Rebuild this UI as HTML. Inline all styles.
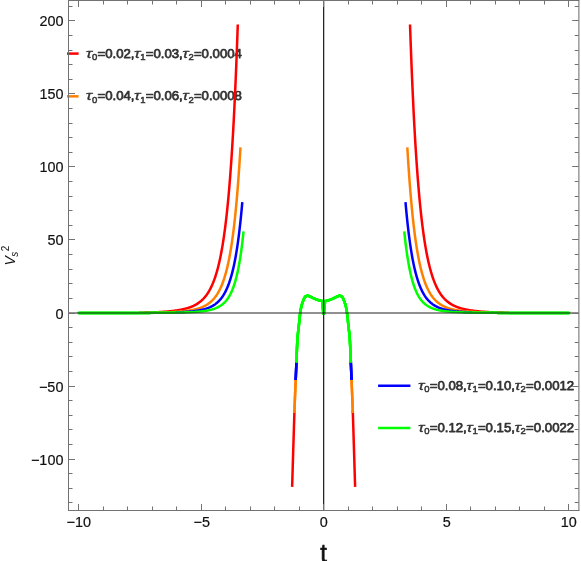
<!DOCTYPE html>
<html><head><meta charset="utf-8"><title>plot</title>
<style>html,body{margin:0;padding:0;background:#fff;}body{width:581px;height:561px;overflow:hidden;position:relative;font-family:"Liberation Sans",sans-serif;}</style></head>
<body>
<svg width="581" height="561" viewBox="0 0 581 561" style="position:absolute;left:0;top:0;will-change:transform">
<rect width="581" height="561" fill="#fff"/>
<g font-family="Liberation Sans, sans-serif" font-size="13.2px" fill="#333" stroke="#333" stroke-width="0.75" stroke-linejoin="round"><text transform="translate(85.80,57.6) scale(1.3,1)" font-style="italic" stroke-width="0.3">τ</text><text x="92.00" y="60.00" font-size="9.5px" stroke-width="0.5">0</text><text x="97.50" y="57.6">=0.02,</text><text transform="translate(134.00,57.6) scale(1.3,1)" font-style="italic" stroke-width="0.3">τ</text><text x="140.20" y="60.00" font-size="9.5px" stroke-width="0.5">1</text><text x="145.70" y="57.6">=0.03,</text><text transform="translate(182.20,57.6) scale(1.3,1)" font-style="italic" stroke-width="0.3">τ</text><text x="188.40" y="60.00" font-size="9.5px" stroke-width="0.5">2</text><text x="193.90" y="57.6">=0.0004</text></g>
<g font-family="Liberation Sans, sans-serif" font-size="13.2px" fill="#333" stroke="#333" stroke-width="0.75" stroke-linejoin="round"><text transform="translate(85.80,100.3) scale(1.3,1)" font-style="italic" stroke-width="0.3">τ</text><text x="92.00" y="102.70" font-size="9.5px" stroke-width="0.5">0</text><text x="97.50" y="100.3">=0.04,</text><text transform="translate(134.00,100.3) scale(1.3,1)" font-style="italic" stroke-width="0.3">τ</text><text x="140.20" y="102.70" font-size="9.5px" stroke-width="0.5">1</text><text x="145.70" y="100.3">=0.06,</text><text transform="translate(182.20,100.3) scale(1.3,1)" font-style="italic" stroke-width="0.3">τ</text><text x="188.40" y="102.70" font-size="9.5px" stroke-width="0.5">2</text><text x="193.90" y="100.3">=0.0008</text></g>
<g font-family="Liberation Sans, sans-serif" font-size="13.2px" fill="#333" stroke="#333" stroke-width="0.75" stroke-linejoin="round"><text transform="translate(418.00,389.5) scale(1.3,1)" font-style="italic" stroke-width="0.3">τ</text><text x="424.20" y="391.90" font-size="9.5px" stroke-width="0.5">0</text><text x="429.70" y="389.5">=0.08,</text><text transform="translate(466.20,389.5) scale(1.3,1)" font-style="italic" stroke-width="0.3">τ</text><text x="472.40" y="391.90" font-size="9.5px" stroke-width="0.5">1</text><text x="477.90" y="389.5">=0.10,</text><text transform="translate(514.40,389.5) scale(1.3,1)" font-style="italic" stroke-width="0.3">τ</text><text x="520.60" y="391.90" font-size="9.5px" stroke-width="0.5">2</text><text x="526.10" y="389.5">=0.0012</text></g>
<g font-family="Liberation Sans, sans-serif" font-size="13.2px" fill="#333" stroke="#333" stroke-width="0.75" stroke-linejoin="round"><text transform="translate(418.00,431.7) scale(1.3,1)" font-style="italic" stroke-width="0.3">τ</text><text x="424.20" y="434.10" font-size="9.5px" stroke-width="0.5">0</text><text x="429.70" y="431.7">=0.12,</text><text transform="translate(466.20,431.7) scale(1.3,1)" font-style="italic" stroke-width="0.3">τ</text><text x="472.40" y="434.10" font-size="9.5px" stroke-width="0.5">1</text><text x="477.90" y="431.7">=0.15,</text><text transform="translate(514.40,431.7) scale(1.3,1)" font-style="italic" stroke-width="0.3">τ</text><text x="520.60" y="434.10" font-size="9.5px" stroke-width="0.5">2</text><text x="526.10" y="431.7">=0.0022</text></g>
<g fill="none" stroke-width="2.5" stroke-linecap="square" stroke-linejoin="round">
<path d="M140.00 312.72 L141.23 312.69 L142.45 312.67 L143.68 312.65 L144.90 312.62 L146.13 312.59 L147.36 312.56 L148.58 312.52 L149.81 312.49 L151.03 312.45 L152.26 312.41 L153.49 312.36 L154.71 312.31 L155.94 312.26 L157.16 312.20 L158.39 312.14 L159.62 312.08 L160.84 312.01 L162.07 311.93 L163.29 311.85 L164.52 311.76 L165.75 311.67 L166.97 311.57 L168.20 311.46 L169.42 311.34 L170.65 311.21 L171.88 311.08 L173.10 310.93 L174.33 310.77 L175.55 310.60 L176.78 310.42 L177.15 310.36 L177.52 310.30 L177.89 310.24 L178.26 310.18 L178.63 310.12 L179.00 310.05 L179.37 309.99 L179.74 309.92 L180.11 309.85 L180.48 309.78 L180.85 309.71 L181.22 309.64 L181.59 309.56 L181.96 309.48 L182.32 309.40 L182.69 309.32 L183.06 309.24 L183.43 309.16 L183.80 309.07 L184.17 308.98 L184.54 308.89 L184.91 308.80 L185.28 308.71 L185.65 308.61 L186.02 308.51 L186.39 308.41 L186.76 308.31 L187.13 308.20 L187.50 308.09 L187.87 307.98 L188.24 307.87 L188.61 307.75 L188.98 307.63 L189.35 307.50 L189.72 307.38 L190.09 307.24 L190.46 307.11 L190.83 306.97 L191.20 306.83 L191.57 306.68 L191.94 306.53 L192.31 306.37 L192.67 306.21 L193.04 306.05 L193.41 305.88 L193.78 305.70 L194.15 305.52 L194.52 305.33 L194.89 305.14 L195.26 304.95 L195.63 304.75 L196.00 304.54 L196.37 304.32 L196.74 304.10 L197.11 303.87 L197.48 303.64 L197.85 303.40 L198.22 303.15 L198.59 302.89 L198.96 302.63 L199.33 302.36 L199.70 302.08 L200.07 301.79 L200.44 301.49 L200.81 301.18 L201.18 300.86 L201.55 300.54 L201.92 300.20 L202.29 299.85 L202.66 299.49 L203.03 299.12 L203.39 298.74 L203.76 298.35 L204.13 297.94 L204.50 297.52 L204.87 297.09 L205.24 296.64 L205.61 296.18 L205.98 295.70 L206.35 295.21 L206.72 294.71 L207.09 294.18 L207.46 293.64 L207.83 293.08 L208.20 292.50 L208.57 291.91 L208.94 291.29 L209.31 290.66 L209.68 290.00 L210.05 289.32 L210.42 288.62 L210.79 287.89 L211.16 287.14 L211.53 286.36 L211.90 285.56 L212.27 284.73 L212.64 283.87 L213.01 282.99 L213.38 282.07 L213.74 281.12 L214.11 280.14 L214.48 279.12 L214.85 278.07 L215.22 276.98 L215.59 275.86 L215.96 274.69 L216.33 273.49 L216.70 272.24 L217.07 270.94 L217.44 269.61 L217.81 268.22 L218.18 266.78 L218.55 265.30 L218.92 263.76 L219.29 262.16 L219.66 260.51 L220.03 258.80 L220.40 257.02 L220.77 255.18 L221.14 253.28 L221.51 251.30 L221.88 249.25 L222.25 247.13 L222.62 244.93 L222.99 242.65 L223.36 240.28 L223.73 237.82 L224.09 235.28 L224.46 232.63 L224.83 229.89 L225.20 227.05 L225.57 224.10 L225.94 221.03 L226.31 217.85 L226.68 214.56 L227.05 211.13 L227.42 207.57 L227.79 203.88 L228.16 200.05 L228.53 196.07 L228.90 191.93 L229.27 187.63 L229.64 183.17 L230.01 178.54 L230.38 173.72 L230.75 168.71 L231.12 163.51 L231.49 158.11 L231.86 152.49 L232.23 146.64 L232.60 140.57 L232.97 134.26 L233.34 127.69 L233.71 120.86 L234.08 113.76 L234.45 106.37 L234.81 98.68 L235.18 90.68 L235.55 82.36 L235.92 73.71 L236.29 64.70 L236.66 55.32 L237.03 45.55 L237.40 35.39 L237.74 25.70" stroke="#ff0000"/>
<path d="M507.80 312.72 L506.57 312.69 L505.35 312.67 L504.12 312.65 L502.90 312.62 L501.67 312.59 L500.44 312.56 L499.22 312.52 L497.99 312.49 L496.77 312.45 L495.54 312.41 L494.31 312.36 L493.09 312.31 L491.86 312.26 L490.64 312.20 L489.41 312.14 L488.18 312.08 L486.96 312.01 L485.73 311.93 L484.51 311.85 L483.28 311.76 L482.05 311.67 L480.83 311.57 L479.60 311.46 L478.38 311.34 L477.15 311.21 L475.92 311.08 L474.70 310.93 L473.47 310.77 L472.25 310.60 L471.02 310.42 L470.65 310.36 L470.28 310.30 L469.91 310.24 L469.54 310.18 L469.17 310.12 L468.80 310.05 L468.43 309.99 L468.06 309.92 L467.69 309.85 L467.32 309.78 L466.95 309.71 L466.58 309.64 L466.21 309.56 L465.84 309.48 L465.48 309.40 L465.11 309.32 L464.74 309.24 L464.37 309.16 L464.00 309.07 L463.63 308.98 L463.26 308.89 L462.89 308.80 L462.52 308.71 L462.15 308.61 L461.78 308.51 L461.41 308.41 L461.04 308.31 L460.67 308.20 L460.30 308.09 L459.93 307.98 L459.56 307.87 L459.19 307.75 L458.82 307.63 L458.45 307.50 L458.08 307.38 L457.71 307.24 L457.34 307.11 L456.97 306.97 L456.60 306.83 L456.23 306.68 L455.86 306.53 L455.49 306.37 L455.13 306.21 L454.76 306.05 L454.39 305.88 L454.02 305.70 L453.65 305.52 L453.28 305.33 L452.91 305.14 L452.54 304.95 L452.17 304.75 L451.80 304.54 L451.43 304.32 L451.06 304.10 L450.69 303.87 L450.32 303.64 L449.95 303.40 L449.58 303.15 L449.21 302.89 L448.84 302.63 L448.47 302.36 L448.10 302.08 L447.73 301.79 L447.36 301.49 L446.99 301.18 L446.62 300.86 L446.25 300.54 L445.88 300.20 L445.51 299.85 L445.14 299.49 L444.77 299.12 L444.41 298.74 L444.04 298.35 L443.67 297.94 L443.30 297.52 L442.93 297.09 L442.56 296.64 L442.19 296.18 L441.82 295.70 L441.45 295.21 L441.08 294.71 L440.71 294.18 L440.34 293.64 L439.97 293.08 L439.60 292.50 L439.23 291.91 L438.86 291.29 L438.49 290.66 L438.12 290.00 L437.75 289.32 L437.38 288.62 L437.01 287.89 L436.64 287.14 L436.27 286.36 L435.90 285.56 L435.53 284.73 L435.16 283.87 L434.79 282.99 L434.42 282.07 L434.06 281.12 L433.69 280.14 L433.32 279.12 L432.95 278.07 L432.58 276.98 L432.21 275.86 L431.84 274.69 L431.47 273.49 L431.10 272.24 L430.73 270.94 L430.36 269.61 L429.99 268.22 L429.62 266.78 L429.25 265.30 L428.88 263.76 L428.51 262.16 L428.14 260.51 L427.77 258.80 L427.40 257.02 L427.03 255.18 L426.66 253.28 L426.29 251.30 L425.92 249.25 L425.55 247.13 L425.18 244.93 L424.81 242.65 L424.44 240.28 L424.07 237.82 L423.71 235.28 L423.34 232.63 L422.97 229.89 L422.60 227.05 L422.23 224.10 L421.86 221.03 L421.49 217.85 L421.12 214.56 L420.75 211.13 L420.38 207.57 L420.01 203.88 L419.64 200.05 L419.27 196.07 L418.90 191.93 L418.53 187.63 L418.16 183.17 L417.79 178.54 L417.42 173.72 L417.05 168.71 L416.68 163.51 L416.31 158.11 L415.94 152.49 L415.57 146.64 L415.20 140.57 L414.83 134.26 L414.46 127.69 L414.09 120.86 L413.72 113.76 L413.35 106.37 L412.99 98.68 L412.62 90.68 L412.25 82.36 L411.88 73.71 L411.51 64.70 L411.14 55.32 L410.77 45.55 L410.40 35.39 L410.06 25.70" stroke="#ff0000"/>
<path id="crl" d="M292.16 485.60 L292.29 481.48 L292.47 475.43 L292.69 468.20 L292.93 460.13 L293.19 451.55 L293.46 442.81 L293.72 434.24 L293.97 426.20 L294.20 419.00 L294.40 413.00 L294.45 411.60" stroke="#ff0000"/>
<path id="crr" d="M355.08 485.60 L354.95 481.48 L354.77 475.43 L354.55 468.20 L354.31 460.13 L354.05 451.55 L353.78 442.81 L353.52 434.24 L353.27 426.20 L353.04 419.00 L352.84 413.00 L352.79 411.60" stroke="#ff0000"/>
<path d="M157.16 312.61 L158.39 312.59 L159.62 312.55 L160.84 312.52 L162.07 312.49 L163.29 312.45 L164.52 312.41 L165.75 312.36 L166.97 312.32 L168.20 312.27 L169.42 312.21 L170.65 312.15 L171.88 312.09 L173.10 312.02 L174.33 311.95 L175.55 311.87 L176.78 311.79 L177.15 311.76 L177.52 311.74 L177.89 311.71 L178.26 311.68 L178.63 311.65 L179.00 311.62 L179.37 311.59 L179.74 311.56 L180.11 311.53 L180.48 311.50 L180.85 311.47 L181.22 311.43 L181.59 311.40 L181.96 311.37 L182.32 311.33 L182.69 311.29 L183.06 311.26 L183.43 311.22 L183.80 311.18 L184.17 311.14 L184.54 311.10 L184.91 311.06 L185.28 311.02 L185.65 310.97 L186.02 310.93 L186.39 310.88 L186.76 310.84 L187.13 310.79 L187.50 310.74 L187.87 310.69 L188.24 310.64 L188.61 310.59 L188.98 310.53 L189.35 310.48 L189.72 310.42 L190.09 310.36 L190.46 310.30 L190.83 310.24 L191.20 310.18 L191.57 310.11 L191.94 310.04 L192.31 309.97 L192.67 309.90 L193.04 309.83 L193.41 309.75 L193.78 309.67 L194.15 309.59 L194.52 309.51 L194.89 309.43 L195.26 309.34 L195.63 309.25 L196.00 309.16 L196.37 309.06 L196.74 308.96 L197.11 308.86 L197.48 308.76 L197.85 308.65 L198.22 308.54 L198.59 308.43 L198.96 308.31 L199.33 308.19 L199.70 308.07 L200.07 307.94 L200.44 307.81 L200.81 307.67 L201.18 307.53 L201.55 307.38 L201.92 307.24 L202.29 307.08 L202.66 306.92 L203.03 306.76 L203.39 306.59 L203.76 306.42 L204.13 306.24 L204.50 306.05 L204.87 305.86 L205.24 305.67 L205.61 305.46 L205.98 305.25 L206.35 305.04 L206.72 304.81 L207.09 304.58 L207.46 304.34 L207.83 304.10 L208.20 303.84 L208.57 303.58 L208.94 303.31 L209.31 303.03 L209.68 302.74 L210.05 302.44 L210.42 302.13 L210.79 301.81 L211.16 301.48 L211.53 301.14 L211.90 300.79 L212.27 300.43 L212.64 300.05 L213.01 299.66 L213.38 299.26 L213.74 298.84 L214.11 298.41 L214.48 297.97 L214.85 297.50 L215.22 297.03 L215.59 296.53 L215.96 296.02 L216.33 295.50 L216.70 294.95 L217.07 294.38 L217.44 293.80 L217.81 293.19 L218.18 292.56 L218.55 291.91 L218.92 291.24 L219.29 290.54 L219.66 289.82 L220.03 289.07 L220.40 288.29 L220.77 287.49 L221.14 286.66 L221.51 285.79 L221.88 284.90 L222.25 283.97 L222.62 283.01 L222.99 282.01 L223.36 280.98 L223.73 279.91 L224.09 278.79 L224.46 277.64 L224.83 276.44 L225.20 275.20 L225.57 273.92 L225.94 272.58 L226.31 271.19 L226.68 269.75 L227.05 268.26 L227.42 266.71 L227.79 265.10 L228.16 263.43 L228.53 261.69 L228.90 259.89 L229.27 258.02 L229.64 256.07 L230.01 254.05 L230.38 251.96 L230.75 249.77 L231.12 247.51 L231.49 245.15 L231.86 242.71 L232.23 240.16 L232.60 237.52 L232.97 234.77 L233.34 231.91 L233.71 228.94 L234.08 225.84 L234.45 222.63 L234.81 219.28 L235.18 215.80 L235.55 212.18 L235.92 208.41 L236.29 204.49 L236.66 200.41 L237.03 196.16 L237.40 191.74 L237.77 187.13 L238.14 182.34 L238.51 177.35 L238.88 172.15 L239.25 166.73 L239.62 161.09 L239.99 155.22 L240.36 149.10 L240.39 148.60" stroke="#ff8000"/>
<path d="M490.64 312.61 L489.41 312.59 L488.18 312.55 L486.96 312.52 L485.73 312.49 L484.51 312.45 L483.28 312.41 L482.05 312.36 L480.83 312.32 L479.60 312.27 L478.38 312.21 L477.15 312.15 L475.92 312.09 L474.70 312.02 L473.47 311.95 L472.25 311.87 L471.02 311.79 L470.65 311.76 L470.28 311.74 L469.91 311.71 L469.54 311.68 L469.17 311.65 L468.80 311.62 L468.43 311.59 L468.06 311.56 L467.69 311.53 L467.32 311.50 L466.95 311.47 L466.58 311.43 L466.21 311.40 L465.84 311.37 L465.48 311.33 L465.11 311.29 L464.74 311.26 L464.37 311.22 L464.00 311.18 L463.63 311.14 L463.26 311.10 L462.89 311.06 L462.52 311.02 L462.15 310.97 L461.78 310.93 L461.41 310.88 L461.04 310.84 L460.67 310.79 L460.30 310.74 L459.93 310.69 L459.56 310.64 L459.19 310.59 L458.82 310.53 L458.45 310.48 L458.08 310.42 L457.71 310.36 L457.34 310.30 L456.97 310.24 L456.60 310.18 L456.23 310.11 L455.86 310.04 L455.49 309.97 L455.13 309.90 L454.76 309.83 L454.39 309.75 L454.02 309.67 L453.65 309.59 L453.28 309.51 L452.91 309.43 L452.54 309.34 L452.17 309.25 L451.80 309.16 L451.43 309.06 L451.06 308.96 L450.69 308.86 L450.32 308.76 L449.95 308.65 L449.58 308.54 L449.21 308.43 L448.84 308.31 L448.47 308.19 L448.10 308.07 L447.73 307.94 L447.36 307.81 L446.99 307.67 L446.62 307.53 L446.25 307.38 L445.88 307.24 L445.51 307.08 L445.14 306.92 L444.77 306.76 L444.41 306.59 L444.04 306.42 L443.67 306.24 L443.30 306.05 L442.93 305.86 L442.56 305.67 L442.19 305.46 L441.82 305.25 L441.45 305.04 L441.08 304.81 L440.71 304.58 L440.34 304.34 L439.97 304.10 L439.60 303.84 L439.23 303.58 L438.86 303.31 L438.49 303.03 L438.12 302.74 L437.75 302.44 L437.38 302.13 L437.01 301.81 L436.64 301.48 L436.27 301.14 L435.90 300.79 L435.53 300.43 L435.16 300.05 L434.79 299.66 L434.42 299.26 L434.06 298.84 L433.69 298.41 L433.32 297.97 L432.95 297.50 L432.58 297.03 L432.21 296.53 L431.84 296.02 L431.47 295.50 L431.10 294.95 L430.73 294.38 L430.36 293.80 L429.99 293.19 L429.62 292.56 L429.25 291.91 L428.88 291.24 L428.51 290.54 L428.14 289.82 L427.77 289.07 L427.40 288.29 L427.03 287.49 L426.66 286.66 L426.29 285.79 L425.92 284.90 L425.55 283.97 L425.18 283.01 L424.81 282.01 L424.44 280.98 L424.07 279.91 L423.71 278.79 L423.34 277.64 L422.97 276.44 L422.60 275.20 L422.23 273.92 L421.86 272.58 L421.49 271.19 L421.12 269.75 L420.75 268.26 L420.38 266.71 L420.01 265.10 L419.64 263.43 L419.27 261.69 L418.90 259.89 L418.53 258.02 L418.16 256.07 L417.79 254.05 L417.42 251.96 L417.05 249.77 L416.68 247.51 L416.31 245.15 L415.94 242.71 L415.57 240.16 L415.20 237.52 L414.83 234.77 L414.46 231.91 L414.09 228.94 L413.72 225.84 L413.35 222.63 L412.99 219.28 L412.62 215.80 L412.25 212.18 L411.88 208.41 L411.51 204.49 L411.14 200.41 L410.77 196.16 L410.40 191.74 L410.03 187.13 L409.66 182.34 L409.29 177.35 L408.92 172.15 L408.55 166.73 L408.18 161.09 L407.81 155.22 L407.44 149.10 L407.41 148.60" stroke="#ff8000"/>
<path id="col" d="M294.45 411.60 L294.57 408.02 L294.73 403.63 L294.88 399.73 L295.02 396.26 L295.15 393.14 L295.27 390.30 L295.38 387.66 L295.49 385.15 L295.60 382.69 L295.70 380.20 L295.76 378.80" stroke="#ff8000"/>
<path id="cor" d="M352.79 411.60 L352.67 408.02 L352.51 403.63 L352.36 399.73 L352.22 396.26 L352.09 393.14 L351.97 390.30 L351.86 387.66 L351.75 385.15 L351.64 382.69 L351.54 380.20 L351.48 378.80" stroke="#ff8000"/>
<use href="#col"/><use href="#cor"/>
<path d="M176.78 312.35 L177.15 312.33 L177.52 312.32 L177.89 312.30 L178.26 312.29 L178.63 312.27 L179.00 312.26 L179.37 312.24 L179.74 312.22 L180.11 312.21 L180.48 312.19 L180.85 312.17 L181.22 312.15 L181.59 312.13 L181.96 312.12 L182.32 312.10 L182.69 312.08 L183.06 312.06 L183.43 312.03 L183.80 312.01 L184.17 311.99 L184.54 311.97 L184.91 311.95 L185.28 311.92 L185.65 311.90 L186.02 311.87 L186.39 311.85 L186.76 311.82 L187.13 311.80 L187.50 311.77 L187.87 311.74 L188.24 311.72 L188.61 311.69 L188.98 311.66 L189.35 311.63 L189.72 311.59 L190.09 311.56 L190.46 311.53 L190.83 311.49 L191.20 311.46 L191.57 311.42 L191.94 311.38 L192.31 311.35 L192.67 311.31 L193.04 311.27 L193.41 311.22 L193.78 311.18 L194.15 311.14 L194.52 311.09 L194.89 311.04 L195.26 311.00 L195.63 310.95 L196.00 310.89 L196.37 310.84 L196.74 310.79 L197.11 310.73 L197.48 310.67 L197.85 310.61 L198.22 310.55 L198.59 310.49 L198.96 310.43 L199.33 310.36 L199.70 310.29 L200.07 310.22 L200.44 310.14 L200.81 310.07 L201.18 309.99 L201.55 309.91 L201.92 309.83 L202.29 309.74 L202.66 309.66 L203.03 309.56 L203.39 309.47 L203.76 309.37 L204.13 309.28 L204.50 309.17 L204.87 309.07 L205.24 308.96 L205.61 308.84 L205.98 308.73 L206.35 308.61 L206.72 308.48 L207.09 308.36 L207.46 308.22 L207.83 308.09 L208.20 307.95 L208.57 307.80 L208.94 307.65 L209.31 307.49 L209.68 307.33 L210.05 307.17 L210.42 307.00 L210.79 306.82 L211.16 306.64 L211.53 306.45 L211.90 306.25 L212.27 306.05 L212.64 305.84 L213.01 305.62 L213.38 305.40 L213.74 305.17 L214.11 304.93 L214.48 304.68 L214.85 304.43 L215.22 304.16 L215.59 303.89 L215.96 303.60 L216.33 303.31 L216.70 303.01 L217.07 302.69 L217.44 302.37 L217.81 302.03 L218.18 301.68 L218.55 301.32 L218.92 300.95 L219.29 300.56 L219.66 300.16 L220.03 299.74 L220.40 299.31 L220.77 298.87 L221.14 298.40 L221.51 297.92 L221.88 297.43 L222.25 296.91 L222.62 296.38 L222.99 295.83 L223.36 295.25 L223.73 294.66 L224.09 294.04 L224.46 293.40 L224.83 292.74 L225.20 292.05 L225.57 291.33 L225.94 290.59 L226.31 289.82 L226.68 289.03 L227.05 288.20 L227.42 287.34 L227.79 286.45 L228.16 285.52 L228.53 284.56 L228.90 283.56 L229.27 282.52 L229.64 281.44 L230.01 280.33 L230.38 279.16 L230.75 277.96 L231.12 276.70 L231.49 275.40 L231.86 274.04 L232.23 272.63 L232.60 271.17 L232.97 269.65 L233.34 268.06 L233.71 266.42 L234.08 264.71 L234.45 262.93 L234.81 261.08 L235.18 259.15 L235.55 257.15 L235.92 255.07 L236.29 252.90 L236.66 250.64 L237.03 248.30 L237.40 245.85 L237.77 243.31 L238.14 240.66 L238.51 237.91 L238.88 235.04 L239.25 232.05 L239.62 228.93 L239.99 225.69 L240.36 222.31 L240.73 218.79 L241.10 215.13 L241.47 211.31 L241.84 207.33 L242.19 203.40" stroke="#0000ff"/>
<path d="M471.02 312.35 L470.65 312.33 L470.28 312.32 L469.91 312.30 L469.54 312.29 L469.17 312.27 L468.80 312.26 L468.43 312.24 L468.06 312.22 L467.69 312.21 L467.32 312.19 L466.95 312.17 L466.58 312.15 L466.21 312.13 L465.84 312.12 L465.48 312.10 L465.11 312.08 L464.74 312.06 L464.37 312.03 L464.00 312.01 L463.63 311.99 L463.26 311.97 L462.89 311.95 L462.52 311.92 L462.15 311.90 L461.78 311.87 L461.41 311.85 L461.04 311.82 L460.67 311.80 L460.30 311.77 L459.93 311.74 L459.56 311.72 L459.19 311.69 L458.82 311.66 L458.45 311.63 L458.08 311.59 L457.71 311.56 L457.34 311.53 L456.97 311.49 L456.60 311.46 L456.23 311.42 L455.86 311.38 L455.49 311.35 L455.13 311.31 L454.76 311.27 L454.39 311.22 L454.02 311.18 L453.65 311.14 L453.28 311.09 L452.91 311.04 L452.54 311.00 L452.17 310.95 L451.80 310.89 L451.43 310.84 L451.06 310.79 L450.69 310.73 L450.32 310.67 L449.95 310.61 L449.58 310.55 L449.21 310.49 L448.84 310.43 L448.47 310.36 L448.10 310.29 L447.73 310.22 L447.36 310.14 L446.99 310.07 L446.62 309.99 L446.25 309.91 L445.88 309.83 L445.51 309.74 L445.14 309.66 L444.77 309.56 L444.41 309.47 L444.04 309.37 L443.67 309.28 L443.30 309.17 L442.93 309.07 L442.56 308.96 L442.19 308.84 L441.82 308.73 L441.45 308.61 L441.08 308.48 L440.71 308.36 L440.34 308.22 L439.97 308.09 L439.60 307.95 L439.23 307.80 L438.86 307.65 L438.49 307.49 L438.12 307.33 L437.75 307.17 L437.38 307.00 L437.01 306.82 L436.64 306.64 L436.27 306.45 L435.90 306.25 L435.53 306.05 L435.16 305.84 L434.79 305.62 L434.42 305.40 L434.06 305.17 L433.69 304.93 L433.32 304.68 L432.95 304.43 L432.58 304.16 L432.21 303.89 L431.84 303.60 L431.47 303.31 L431.10 303.01 L430.73 302.69 L430.36 302.37 L429.99 302.03 L429.62 301.68 L429.25 301.32 L428.88 300.95 L428.51 300.56 L428.14 300.16 L427.77 299.74 L427.40 299.31 L427.03 298.87 L426.66 298.40 L426.29 297.92 L425.92 297.43 L425.55 296.91 L425.18 296.38 L424.81 295.83 L424.44 295.25 L424.07 294.66 L423.71 294.04 L423.34 293.40 L422.97 292.74 L422.60 292.05 L422.23 291.33 L421.86 290.59 L421.49 289.82 L421.12 289.03 L420.75 288.20 L420.38 287.34 L420.01 286.45 L419.64 285.52 L419.27 284.56 L418.90 283.56 L418.53 282.52 L418.16 281.44 L417.79 280.33 L417.42 279.16 L417.05 277.96 L416.68 276.70 L416.31 275.40 L415.94 274.04 L415.57 272.63 L415.20 271.17 L414.83 269.65 L414.46 268.06 L414.09 266.42 L413.72 264.71 L413.35 262.93 L412.99 261.08 L412.62 259.15 L412.25 257.15 L411.88 255.07 L411.51 252.90 L411.14 250.64 L410.77 248.30 L410.40 245.85 L410.03 243.31 L409.66 240.66 L409.29 237.91 L408.92 235.04 L408.55 232.05 L408.18 228.93 L407.81 225.69 L407.44 222.31 L407.07 218.79 L406.70 215.13 L406.33 211.31 L405.96 207.33 L405.61 203.40" stroke="#0000ff"/>
<path id="cbl" d="M295.76 378.80 L295.79 377.84 L295.87 375.77 L295.94 373.93 L296.01 372.26 L296.07 370.71 L296.13 369.20 L296.19 367.69 L296.25 366.11 L296.32 364.40 L296.40 362.50 L296.46 361.10" stroke="#0000ff"/>
<path id="cbr" d="M351.48 378.80 L351.45 377.84 L351.37 375.77 L351.30 373.93 L351.23 372.26 L351.17 370.71 L351.11 369.20 L351.05 367.69 L350.99 366.11 L350.92 364.40 L350.84 362.50 L350.78 361.10" stroke="#0000ff"/>
<use href="#cbl"/><use href="#cbr"/>
<use href="#cbl"/><use href="#cbr"/>
<path d="M78.70 313.00 L79.93 313.00 L81.15 313.00 L82.38 313.00 L83.60 312.99 L84.83 312.99 L86.06 312.99 L87.28 312.99 L88.51 312.99 L89.73 312.99 L90.96 312.99 L92.19 312.99 L93.41 312.99 L94.64 312.99 L95.86 312.99 L97.09 312.99 L98.32 312.99 L99.54 312.99 L100.77 312.99 L101.99 312.99 L103.22 312.99 L104.45 312.99 L105.67 312.99 L106.90 312.98 L108.12 312.98 L109.35 312.98 L110.58 312.98 L111.80 312.98 L113.03 312.98 L114.25 312.98 L115.48 312.98 L116.71 312.98 L117.93 312.97 L119.16 312.97 L120.38 312.97 L121.61 312.97 L122.84 312.97 L124.06 312.97 L125.29 312.96 L126.51 312.96 L127.74 312.96 L128.97 312.96 L130.19 312.95 L131.42 312.95 L132.64 312.95 L133.87 312.94 L135.10 312.94 L136.32 312.94 L137.55 312.93 L138.77 312.93" stroke="#00ff00" stroke-linecap="butt"/>
<path d="M569.10 313.00 L567.87 313.00 L566.65 313.00 L565.42 313.00 L564.20 312.99 L562.97 312.99 L561.74 312.99 L560.52 312.99 L559.29 312.99 L558.07 312.99 L556.84 312.99 L555.61 312.99 L554.39 312.99 L553.16 312.99 L551.94 312.99 L550.71 312.99 L549.48 312.99 L548.26 312.99 L547.03 312.99 L545.81 312.99 L544.58 312.99 L543.35 312.99 L542.13 312.99 L540.90 312.98 L539.68 312.98 L538.45 312.98 L537.22 312.98 L536.00 312.98 L534.77 312.98 L533.55 312.98 L532.32 312.98 L531.09 312.98 L529.87 312.97 L528.64 312.97 L527.42 312.97 L526.19 312.97 L524.96 312.97 L523.74 312.97 L522.51 312.96 L521.29 312.96 L520.06 312.96 L518.83 312.96 L517.61 312.95 L516.38 312.95 L515.16 312.95 L513.93 312.94 L512.70 312.94 L511.48 312.94 L510.25 312.93 L509.03 312.93" stroke="#00ff00" stroke-linecap="butt"/>
<path d="M78.70 313.00 L79.93 313.00 L81.15 313.00 L82.38 313.00 L83.60 312.99 L84.83 312.99 L86.06 312.99 L87.28 312.99 L88.51 312.99 L89.73 312.99 L90.96 312.99 L92.19 312.99 L93.41 312.99 L94.64 312.99 L95.86 312.99 L97.09 312.99 L98.32 312.99 L99.54 312.99 L100.77 312.99 L101.99 312.99 L103.22 312.99 L104.45 312.99 L105.67 312.99 L106.90 312.98 L108.12 312.98 L109.35 312.98 L110.58 312.98 L111.80 312.98 L113.03 312.98 L114.25 312.98 L115.48 312.98 L116.71 312.98 L117.93 312.97 L119.16 312.97 L120.38 312.97 L121.61 312.97 L122.84 312.97 L124.06 312.97 L125.29 312.96 L126.51 312.96 L127.74 312.96 L128.97 312.96 L130.19 312.95 L131.42 312.95 L132.64 312.95 L133.87 312.94 L135.10 312.94 L136.32 312.94 L137.55 312.93 L138.77 312.93 L140.00 312.93 L141.23 312.92 L142.45 312.92 L143.68 312.91 L144.90 312.91 L146.13 312.90 L147.36 312.89 L148.58 312.89 L149.81 312.88 L151.03 312.87 L152.26 312.87 L153.49 312.86 L154.71 312.85 L155.94 312.84" stroke="#00ff00" stroke-linecap="butt"/>
<path d="M569.10 313.00 L567.87 313.00 L566.65 313.00 L565.42 313.00 L564.20 312.99 L562.97 312.99 L561.74 312.99 L560.52 312.99 L559.29 312.99 L558.07 312.99 L556.84 312.99 L555.61 312.99 L554.39 312.99 L553.16 312.99 L551.94 312.99 L550.71 312.99 L549.48 312.99 L548.26 312.99 L547.03 312.99 L545.81 312.99 L544.58 312.99 L543.35 312.99 L542.13 312.99 L540.90 312.98 L539.68 312.98 L538.45 312.98 L537.22 312.98 L536.00 312.98 L534.77 312.98 L533.55 312.98 L532.32 312.98 L531.09 312.98 L529.87 312.97 L528.64 312.97 L527.42 312.97 L526.19 312.97 L524.96 312.97 L523.74 312.97 L522.51 312.96 L521.29 312.96 L520.06 312.96 L518.83 312.96 L517.61 312.95 L516.38 312.95 L515.16 312.95 L513.93 312.94 L512.70 312.94 L511.48 312.94 L510.25 312.93 L509.03 312.93 L507.80 312.93 L506.57 312.92 L505.35 312.92 L504.12 312.91 L502.90 312.91 L501.67 312.90 L500.44 312.89 L499.22 312.89 L497.99 312.88 L496.77 312.87 L495.54 312.87 L494.31 312.86 L493.09 312.85 L491.86 312.84" stroke="#00ff00" stroke-linecap="butt"/>
<path d="M78.70 313.00 L79.93 313.00 L81.15 313.00 L82.38 313.00 L83.60 312.99 L84.83 312.99 L86.06 312.99 L87.28 312.99 L88.51 312.99 L89.73 312.99 L90.96 312.99 L92.19 312.99 L93.41 312.99 L94.64 312.99 L95.86 312.99 L97.09 312.99 L98.32 312.99 L99.54 312.99 L100.77 312.99 L101.99 312.99 L103.22 312.99 L104.45 312.99 L105.67 312.99 L106.90 312.98 L108.12 312.98 L109.35 312.98 L110.58 312.98 L111.80 312.98 L113.03 312.98 L114.25 312.98 L115.48 312.98 L116.71 312.98 L117.93 312.97 L119.16 312.97 L120.38 312.97 L121.61 312.97 L122.84 312.97 L124.06 312.97 L125.29 312.96 L126.51 312.96 L127.74 312.96 L128.97 312.96 L130.19 312.95 L131.42 312.95 L132.64 312.95 L133.87 312.94 L135.10 312.94 L136.32 312.94 L137.55 312.93 L138.77 312.93 L140.00 312.93 L141.23 312.92 L142.45 312.92 L143.68 312.91 L144.90 312.91 L146.13 312.90 L147.36 312.89 L148.58 312.89 L149.81 312.88 L151.03 312.87 L152.26 312.87 L153.49 312.86 L154.71 312.85 L155.94 312.84 L157.16 312.83 L158.39 312.82 L159.62 312.81 L160.84 312.80 L162.07 312.78 L163.29 312.77 L164.52 312.76 L165.75 312.74 L166.97 312.73 L168.20 312.71 L169.42 312.69 L170.65 312.68 L171.88 312.66 L173.10 312.64 L174.33 312.61 L175.55 312.59" stroke="#00ff00" stroke-linecap="butt"/>
<path d="M569.10 313.00 L567.87 313.00 L566.65 313.00 L565.42 313.00 L564.20 312.99 L562.97 312.99 L561.74 312.99 L560.52 312.99 L559.29 312.99 L558.07 312.99 L556.84 312.99 L555.61 312.99 L554.39 312.99 L553.16 312.99 L551.94 312.99 L550.71 312.99 L549.48 312.99 L548.26 312.99 L547.03 312.99 L545.81 312.99 L544.58 312.99 L543.35 312.99 L542.13 312.99 L540.90 312.98 L539.68 312.98 L538.45 312.98 L537.22 312.98 L536.00 312.98 L534.77 312.98 L533.55 312.98 L532.32 312.98 L531.09 312.98 L529.87 312.97 L528.64 312.97 L527.42 312.97 L526.19 312.97 L524.96 312.97 L523.74 312.97 L522.51 312.96 L521.29 312.96 L520.06 312.96 L518.83 312.96 L517.61 312.95 L516.38 312.95 L515.16 312.95 L513.93 312.94 L512.70 312.94 L511.48 312.94 L510.25 312.93 L509.03 312.93 L507.80 312.93 L506.57 312.92 L505.35 312.92 L504.12 312.91 L502.90 312.91 L501.67 312.90 L500.44 312.89 L499.22 312.89 L497.99 312.88 L496.77 312.87 L495.54 312.87 L494.31 312.86 L493.09 312.85 L491.86 312.84 L490.64 312.83 L489.41 312.82 L488.18 312.81 L486.96 312.80 L485.73 312.78 L484.51 312.77 L483.28 312.76 L482.05 312.74 L480.83 312.73 L479.60 312.71 L478.38 312.69 L477.15 312.68 L475.92 312.66 L474.70 312.64 L473.47 312.61 L472.25 312.59" stroke="#00ff00" stroke-linecap="butt"/>
<path d="M78.70 313.00 L79.93 313.00 L81.15 313.00 L82.38 313.00 L83.60 312.99 L84.83 312.99 L86.06 312.99 L87.28 312.99 L88.51 312.99 L89.73 312.99 L90.96 312.99 L92.19 312.99 L93.41 312.99 L94.64 312.99 L95.86 312.99 L97.09 312.99 L98.32 312.99 L99.54 312.99 L100.77 312.99 L101.99 312.99 L103.22 312.99 L104.45 312.99 L105.67 312.99 L106.90 312.98 L108.12 312.98 L109.35 312.98 L110.58 312.98 L111.80 312.98 L113.03 312.98 L114.25 312.98 L115.48 312.98 L116.71 312.98 L117.93 312.97 L119.16 312.97 L120.38 312.97 L121.61 312.97 L122.84 312.97 L124.06 312.97 L125.29 312.96 L126.51 312.96 L127.74 312.96 L128.97 312.96 L130.19 312.95 L131.42 312.95 L132.64 312.95 L133.87 312.94 L135.10 312.94 L136.32 312.94 L137.55 312.93 L138.77 312.93 L140.00 312.93 L141.23 312.92 L142.45 312.92 L143.68 312.91 L144.90 312.91 L146.13 312.90 L147.36 312.89 L148.58 312.89 L149.81 312.88 L151.03 312.87 L152.26 312.87 L153.49 312.86 L154.71 312.85 L155.94 312.84 L157.16 312.83 L158.39 312.82 L159.62 312.81 L160.84 312.80 L162.07 312.78 L163.29 312.77 L164.52 312.76 L165.75 312.74 L166.97 312.73 L168.20 312.71 L169.42 312.69 L170.65 312.68 L171.88 312.66 L173.10 312.64 L174.33 312.61 L175.55 312.59 L176.78 312.57 L177.15 312.56 L177.52 312.55 L177.89 312.54 L178.26 312.53 L178.63 312.53 L179.00 312.52 L179.37 312.51 L179.74 312.50 L180.11 312.49 L180.48 312.48 L180.85 312.47 L181.22 312.46 L181.59 312.45 L181.96 312.44 L182.32 312.43 L182.69 312.42 L183.06 312.41 L183.43 312.40 L183.80 312.39 L184.17 312.38 L184.54 312.37 L184.91 312.36 L185.28 312.35 L185.65 312.34 L186.02 312.32 L186.39 312.31 L186.76 312.30 L187.13 312.29 L187.50 312.27 L187.87 312.26 L188.24 312.25 L188.61 312.23 L188.98 312.22 L189.35 312.20 L189.72 312.19 L190.09 312.17 L190.46 312.16 L190.83 312.14 L191.20 312.12 L191.57 312.11 L191.94 312.09 L192.31 312.07 L192.67 312.05 L193.04 312.03 L193.41 312.01 L193.78 311.99 L194.15 311.97 L194.52 311.94 L194.89 311.92 L195.26 311.90 L195.63 311.87 L196.00 311.85 L196.37 311.82 L196.74 311.80 L197.11 311.77 L197.48 311.74 L197.85 311.71 L198.22 311.68 L198.59 311.65 L198.96 311.62 L199.33 311.59 L199.70 311.55 L200.07 311.52 L200.44 311.48 L200.81 311.44 L201.18 311.40 L201.55 311.37 L201.92 311.32 L202.29 311.28 L202.66 311.24 L203.03 311.19 L203.39 311.15 L203.76 311.10 L204.13 311.05 L204.50 311.00 L204.87 310.95 L205.24 310.89 L205.61 310.83 L205.98 310.78 L206.35 310.71 L206.72 310.65 L207.09 310.59 L207.46 310.52 L207.83 310.45 L208.20 310.38 L208.57 310.31 L208.94 310.23 L209.31 310.15 L209.68 310.07 L210.05 309.98 L210.42 309.90 L210.79 309.81 L211.16 309.71 L211.53 309.61 L211.90 309.51 L212.27 309.41 L212.64 309.30 L213.01 309.19 L213.38 309.07 L213.74 308.95 L214.11 308.83 L214.48 308.70 L214.85 308.56 L215.22 308.42 L215.59 308.28 L215.96 308.13 L216.33 307.97 L216.70 307.81 L217.07 307.64 L217.44 307.47 L217.81 307.29 L218.18 307.10 L218.55 306.91 L218.92 306.70 L219.29 306.49 L219.66 306.28 L220.03 306.05 L220.40 305.81 L220.77 305.57 L221.14 305.31 L221.51 305.05 L221.88 304.77 L222.25 304.49 L222.62 304.19 L222.99 303.88 L223.36 303.56 L223.73 303.22 L224.09 302.87 L224.46 302.51 L224.83 302.13 L225.20 301.74 L225.57 301.33 L225.94 300.90 L226.31 300.46 L226.68 299.99 L227.05 299.51 L227.42 299.01 L227.79 298.48 L228.16 297.94 L228.53 297.37 L228.90 296.77 L229.27 296.15 L229.64 295.51 L230.01 294.83 L230.38 294.13 L230.75 293.39 L231.12 292.63 L231.49 291.83 L231.86 290.99 L232.23 290.12 L232.60 289.21 L232.97 288.26 L233.34 287.27 L233.71 286.23 L234.08 285.14 L234.45 284.01 L234.81 282.82 L235.18 281.59 L235.55 280.29 L235.92 278.94 L236.29 277.52 L236.66 276.04 L237.03 274.49 L237.40 272.86 L237.77 271.17 L238.14 269.39 L238.51 267.53 L238.88 265.58 L239.25 263.54 L239.62 261.40 L239.99 259.16 L240.36 256.82 L240.73 254.36 L241.10 251.78 L241.47 249.08 L241.84 246.25 L242.21 243.29 L242.58 240.17 L242.95 236.91 L243.32 233.48 L243.40 232.70" stroke="#00ff00"/>
<path d="M569.10 313.00 L567.87 313.00 L566.65 313.00 L565.42 313.00 L564.20 312.99 L562.97 312.99 L561.74 312.99 L560.52 312.99 L559.29 312.99 L558.07 312.99 L556.84 312.99 L555.61 312.99 L554.39 312.99 L553.16 312.99 L551.94 312.99 L550.71 312.99 L549.48 312.99 L548.26 312.99 L547.03 312.99 L545.81 312.99 L544.58 312.99 L543.35 312.99 L542.13 312.99 L540.90 312.98 L539.68 312.98 L538.45 312.98 L537.22 312.98 L536.00 312.98 L534.77 312.98 L533.55 312.98 L532.32 312.98 L531.09 312.98 L529.87 312.97 L528.64 312.97 L527.42 312.97 L526.19 312.97 L524.96 312.97 L523.74 312.97 L522.51 312.96 L521.29 312.96 L520.06 312.96 L518.83 312.96 L517.61 312.95 L516.38 312.95 L515.16 312.95 L513.93 312.94 L512.70 312.94 L511.48 312.94 L510.25 312.93 L509.03 312.93 L507.80 312.93 L506.57 312.92 L505.35 312.92 L504.12 312.91 L502.90 312.91 L501.67 312.90 L500.44 312.89 L499.22 312.89 L497.99 312.88 L496.77 312.87 L495.54 312.87 L494.31 312.86 L493.09 312.85 L491.86 312.84 L490.64 312.83 L489.41 312.82 L488.18 312.81 L486.96 312.80 L485.73 312.78 L484.51 312.77 L483.28 312.76 L482.05 312.74 L480.83 312.73 L479.60 312.71 L478.38 312.69 L477.15 312.68 L475.92 312.66 L474.70 312.64 L473.47 312.61 L472.25 312.59 L471.02 312.57 L470.65 312.56 L470.28 312.55 L469.91 312.54 L469.54 312.53 L469.17 312.53 L468.80 312.52 L468.43 312.51 L468.06 312.50 L467.69 312.49 L467.32 312.48 L466.95 312.47 L466.58 312.46 L466.21 312.45 L465.84 312.44 L465.48 312.43 L465.11 312.42 L464.74 312.41 L464.37 312.40 L464.00 312.39 L463.63 312.38 L463.26 312.37 L462.89 312.36 L462.52 312.35 L462.15 312.34 L461.78 312.32 L461.41 312.31 L461.04 312.30 L460.67 312.29 L460.30 312.27 L459.93 312.26 L459.56 312.25 L459.19 312.23 L458.82 312.22 L458.45 312.20 L458.08 312.19 L457.71 312.17 L457.34 312.16 L456.97 312.14 L456.60 312.12 L456.23 312.11 L455.86 312.09 L455.49 312.07 L455.13 312.05 L454.76 312.03 L454.39 312.01 L454.02 311.99 L453.65 311.97 L453.28 311.94 L452.91 311.92 L452.54 311.90 L452.17 311.87 L451.80 311.85 L451.43 311.82 L451.06 311.80 L450.69 311.77 L450.32 311.74 L449.95 311.71 L449.58 311.68 L449.21 311.65 L448.84 311.62 L448.47 311.59 L448.10 311.55 L447.73 311.52 L447.36 311.48 L446.99 311.44 L446.62 311.40 L446.25 311.37 L445.88 311.32 L445.51 311.28 L445.14 311.24 L444.77 311.19 L444.41 311.15 L444.04 311.10 L443.67 311.05 L443.30 311.00 L442.93 310.95 L442.56 310.89 L442.19 310.83 L441.82 310.78 L441.45 310.71 L441.08 310.65 L440.71 310.59 L440.34 310.52 L439.97 310.45 L439.60 310.38 L439.23 310.31 L438.86 310.23 L438.49 310.15 L438.12 310.07 L437.75 309.98 L437.38 309.90 L437.01 309.81 L436.64 309.71 L436.27 309.61 L435.90 309.51 L435.53 309.41 L435.16 309.30 L434.79 309.19 L434.42 309.07 L434.06 308.95 L433.69 308.83 L433.32 308.70 L432.95 308.56 L432.58 308.42 L432.21 308.28 L431.84 308.13 L431.47 307.97 L431.10 307.81 L430.73 307.64 L430.36 307.47 L429.99 307.29 L429.62 307.10 L429.25 306.91 L428.88 306.70 L428.51 306.49 L428.14 306.28 L427.77 306.05 L427.40 305.81 L427.03 305.57 L426.66 305.31 L426.29 305.05 L425.92 304.77 L425.55 304.49 L425.18 304.19 L424.81 303.88 L424.44 303.56 L424.07 303.22 L423.71 302.87 L423.34 302.51 L422.97 302.13 L422.60 301.74 L422.23 301.33 L421.86 300.90 L421.49 300.46 L421.12 299.99 L420.75 299.51 L420.38 299.01 L420.01 298.48 L419.64 297.94 L419.27 297.37 L418.90 296.77 L418.53 296.15 L418.16 295.51 L417.79 294.83 L417.42 294.13 L417.05 293.39 L416.68 292.63 L416.31 291.83 L415.94 290.99 L415.57 290.12 L415.20 289.21 L414.83 288.26 L414.46 287.27 L414.09 286.23 L413.72 285.14 L413.35 284.01 L412.99 282.82 L412.62 281.59 L412.25 280.29 L411.88 278.94 L411.51 277.52 L411.14 276.04 L410.77 274.49 L410.40 272.86 L410.03 271.17 L409.66 269.39 L409.29 267.53 L408.92 265.58 L408.55 263.54 L408.18 261.40 L407.81 259.16 L407.44 256.82 L407.07 254.36 L406.70 251.78 L406.33 249.08 L405.96 246.25 L405.59 243.29 L405.22 240.17 L404.85 236.91 L404.48 233.48 L404.40 232.70" stroke="#00ff00"/>
<path id="cg" d="M296.46 361.10 L296.49 360.41 L296.57 358.19 L296.66 355.87 L296.75 353.49 L296.85 351.08 L296.95 348.69 L297.05 346.35 L297.16 344.10 L297.28 341.97 L297.40 340.00 L297.53 338.18 L297.67 336.47 L297.82 334.85 L297.97 333.32 L298.13 331.84 L298.29 330.42 L298.45 329.04 L298.60 327.69 L298.76 326.34 L298.90 325.00 L299.04 323.65 L299.17 322.32 L299.31 321.01 L299.44 319.72 L299.57 318.47 L299.70 317.27 L299.82 316.11 L299.95 315.01 L300.07 313.97 L300.20 313.00 L300.32 312.12 L300.44 311.32 L300.55 310.59 L300.66 309.93 L300.77 309.31 L300.88 308.72 L301.00 308.14 L301.12 307.58 L301.26 307.00 L301.40 306.40 L301.56 305.78 L301.72 305.17 L301.90 304.56 L302.08 303.96 L302.26 303.37 L302.45 302.79 L302.64 302.23 L302.83 301.70 L303.02 301.18 L303.20 300.70 L303.38 300.24 L303.55 299.79 L303.72 299.37 L303.89 298.96 L304.06 298.57 L304.23 298.21 L304.41 297.87 L304.60 297.55 L304.79 297.26 L305.00 297.00 L305.22 296.76 L305.46 296.55 L305.70 296.37 L305.95 296.21 L306.21 296.07 L306.47 295.95 L306.73 295.86 L306.99 295.79 L307.25 295.73 L307.50 295.70 L307.75 295.69 L307.98 295.71 L308.22 295.76 L308.45 295.83 L308.69 295.91 L308.93 296.01 L309.18 296.13 L309.44 296.25 L309.71 296.37 L310.00 296.50 L310.30 296.63 L310.61 296.78 L310.93 296.93 L311.26 297.10 L311.59 297.27 L311.94 297.46 L312.31 297.64 L312.69 297.83 L313.08 298.01 L313.50 298.20 L313.95 298.39 L314.43 298.60 L314.93 298.82 L315.46 299.04 L315.99 299.26 L316.53 299.47 L317.06 299.68 L317.57 299.87 L318.05 300.05 L318.50 300.20 L318.93 300.33 L319.37 300.45 L319.80 300.55 L320.21 300.64 L320.61 300.72 L320.99 300.80 L321.33 300.86 L321.63 300.91 L321.89 300.96 L322.10 301.00 L322.35 302.30 L323.35 313.60 L323.95 313.60 L324.95 302.30 L325.14 301.00 L325.35 300.96 L325.61 300.91 L325.91 300.86 L326.25 300.80 L326.63 300.72 L327.03 300.64 L327.44 300.55 L327.87 300.45 L328.31 300.33 L328.74 300.20 L329.19 300.05 L329.67 299.87 L330.18 299.68 L330.71 299.47 L331.25 299.26 L331.78 299.04 L332.31 298.82 L332.81 298.60 L333.29 298.39 L333.74 298.20 L334.16 298.01 L334.55 297.83 L334.93 297.64 L335.30 297.46 L335.65 297.27 L335.98 297.10 L336.31 296.93 L336.63 296.78 L336.94 296.63 L337.24 296.50 L337.53 296.37 L337.80 296.25 L338.06 296.13 L338.31 296.01 L338.55 295.91 L338.79 295.83 L339.02 295.76 L339.26 295.71 L339.49 295.69 L339.74 295.70 L339.99 295.73 L340.25 295.79 L340.51 295.86 L340.77 295.95 L341.03 296.07 L341.29 296.21 L341.54 296.37 L341.78 296.55 L342.02 296.76 L342.24 297.00 L342.45 297.26 L342.64 297.55 L342.83 297.87 L343.01 298.21 L343.18 298.57 L343.35 298.96 L343.52 299.37 L343.69 299.79 L343.86 300.24 L344.04 300.70 L344.22 301.18 L344.41 301.70 L344.60 302.23 L344.79 302.79 L344.98 303.37 L345.16 303.96 L345.34 304.56 L345.52 305.17 L345.68 305.78 L345.84 306.40 L345.98 307.00 L346.12 307.58 L346.24 308.14 L346.36 308.72 L346.47 309.31 L346.58 309.93 L346.69 310.59 L346.80 311.32 L346.92 312.12 L347.04 313.00 L347.17 313.97 L347.29 315.01 L347.42 316.11 L347.54 317.27 L347.67 318.47 L347.80 319.72 L347.93 321.01 L348.07 322.32 L348.20 323.65 L348.34 325.00 L348.48 326.34 L348.64 327.69 L348.79 329.04 L348.95 330.42 L349.11 331.84 L349.27 333.32 L349.42 334.85 L349.57 336.47 L349.71 338.18 L349.84 340.00 L349.96 341.97 L350.08 344.10 L350.19 346.35 L350.29 348.69 L350.39 351.08 L350.49 353.49 L350.58 355.87 L350.67 358.19 L350.75 360.41 L350.78 361.10" stroke="#00ff00"/>
<use href="#cg"/><use href="#cg"/><use href="#cg"/>
</g>
<g stroke-width="2.5" stroke-linecap="butt">
<line x1="67" y1="53.6" x2="78.6" y2="53.6" stroke="#ff0000"/>
<line x1="67" y1="96.35" x2="78.6" y2="96.35" stroke="#ff8000"/>
<line x1="378.1" y1="385.8" x2="410.4" y2="385.8" stroke="#0000ff"/>
<line x1="378.1" y1="428.0" x2="410.4" y2="428.0" stroke="#00ff00"/>
</g>
<line x1="68.5" y1="312.95" x2="578.7" y2="312.95" stroke="#222" stroke-width="1.1"/>
<line x1="323.65" y1="0" x2="323.65" y2="510.5" stroke="#222" stroke-width="1.25"/>
<g stroke="#727272" stroke-width="1" fill="none">
<line x1="68" y1="0.5" x2="579.2" y2="0.5"/>
<line x1="68" y1="510.5" x2="579.2" y2="510.5"/>
<line x1="68.5" y1="0" x2="68.5" y2="511"/>
<line x1="578.9" y1="0" x2="578.9" y2="511" stroke="#686868"/>
<line x1="78.5" y1="504.0" x2="78.5" y2="510.5"/>
<line x1="78.5" y1="0.5" x2="78.5" y2="7.0"/>
<line x1="103.5" y1="506.5" x2="103.5" y2="510.5"/>
<line x1="103.5" y1="0.5" x2="103.5" y2="4.5"/>
<line x1="127.5" y1="506.5" x2="127.5" y2="510.5"/>
<line x1="127.5" y1="0.5" x2="127.5" y2="4.5"/>
<line x1="152.5" y1="506.5" x2="152.5" y2="510.5"/>
<line x1="152.5" y1="0.5" x2="152.5" y2="4.5"/>
<line x1="176.5" y1="506.5" x2="176.5" y2="510.5"/>
<line x1="176.5" y1="0.5" x2="176.5" y2="4.5"/>
<line x1="201.5" y1="504.0" x2="201.5" y2="510.5"/>
<line x1="201.5" y1="0.5" x2="201.5" y2="7.0"/>
<line x1="225.5" y1="506.5" x2="225.5" y2="510.5"/>
<line x1="225.5" y1="0.5" x2="225.5" y2="4.5"/>
<line x1="250.5" y1="506.5" x2="250.5" y2="510.5"/>
<line x1="250.5" y1="0.5" x2="250.5" y2="4.5"/>
<line x1="274.5" y1="506.5" x2="274.5" y2="510.5"/>
<line x1="274.5" y1="0.5" x2="274.5" y2="4.5"/>
<line x1="299.5" y1="506.5" x2="299.5" y2="510.5"/>
<line x1="299.5" y1="0.5" x2="299.5" y2="4.5"/>
<line x1="323.5" y1="504.0" x2="323.5" y2="510.5"/>
<line x1="323.5" y1="0.5" x2="323.5" y2="7.0"/>
<line x1="348.5" y1="506.5" x2="348.5" y2="510.5"/>
<line x1="348.5" y1="0.5" x2="348.5" y2="4.5"/>
<line x1="372.5" y1="506.5" x2="372.5" y2="510.5"/>
<line x1="372.5" y1="0.5" x2="372.5" y2="4.5"/>
<line x1="397.5" y1="506.5" x2="397.5" y2="510.5"/>
<line x1="397.5" y1="0.5" x2="397.5" y2="4.5"/>
<line x1="421.5" y1="506.5" x2="421.5" y2="510.5"/>
<line x1="421.5" y1="0.5" x2="421.5" y2="4.5"/>
<line x1="446.5" y1="504.0" x2="446.5" y2="510.5"/>
<line x1="446.5" y1="0.5" x2="446.5" y2="7.0"/>
<line x1="470.5" y1="506.5" x2="470.5" y2="510.5"/>
<line x1="470.5" y1="0.5" x2="470.5" y2="4.5"/>
<line x1="495.5" y1="506.5" x2="495.5" y2="510.5"/>
<line x1="495.5" y1="0.5" x2="495.5" y2="4.5"/>
<line x1="519.5" y1="506.5" x2="519.5" y2="510.5"/>
<line x1="519.5" y1="0.5" x2="519.5" y2="4.5"/>
<line x1="544.5" y1="506.5" x2="544.5" y2="510.5"/>
<line x1="544.5" y1="0.5" x2="544.5" y2="4.5"/>
<line x1="568.5" y1="504.0" x2="568.5" y2="510.5"/>
<line x1="568.5" y1="0.5" x2="568.5" y2="7.0"/>
<line x1="68.5" y1="502.5" x2="72.5" y2="502.5"/>
<line x1="574.7" y1="502.5" x2="578.7" y2="502.5"/>
<line x1="68.5" y1="488.5" x2="72.5" y2="488.5"/>
<line x1="574.7" y1="488.5" x2="578.7" y2="488.5"/>
<line x1="68.5" y1="473.5" x2="72.5" y2="473.5"/>
<line x1="574.7" y1="473.5" x2="578.7" y2="473.5"/>
<line x1="68.5" y1="459.5" x2="75.0" y2="459.5"/>
<line x1="572.2" y1="459.5" x2="578.7" y2="459.5"/>
<line x1="68.5" y1="444.5" x2="72.5" y2="444.5"/>
<line x1="574.7" y1="444.5" x2="578.7" y2="444.5"/>
<line x1="68.5" y1="429.5" x2="72.5" y2="429.5"/>
<line x1="574.7" y1="429.5" x2="578.7" y2="429.5"/>
<line x1="68.5" y1="415.5" x2="72.5" y2="415.5"/>
<line x1="574.7" y1="415.5" x2="578.7" y2="415.5"/>
<line x1="68.5" y1="400.5" x2="72.5" y2="400.5"/>
<line x1="574.7" y1="400.5" x2="578.7" y2="400.5"/>
<line x1="68.5" y1="386.5" x2="75.0" y2="386.5"/>
<line x1="572.2" y1="386.5" x2="578.7" y2="386.5"/>
<line x1="68.5" y1="371.5" x2="72.5" y2="371.5"/>
<line x1="574.7" y1="371.5" x2="578.7" y2="371.5"/>
<line x1="68.5" y1="356.5" x2="72.5" y2="356.5"/>
<line x1="574.7" y1="356.5" x2="578.7" y2="356.5"/>
<line x1="68.5" y1="342.5" x2="72.5" y2="342.5"/>
<line x1="574.7" y1="342.5" x2="578.7" y2="342.5"/>
<line x1="68.5" y1="327.5" x2="72.5" y2="327.5"/>
<line x1="574.7" y1="327.5" x2="578.7" y2="327.5"/>
<line x1="68.5" y1="313.5" x2="75.0" y2="313.5"/>
<line x1="572.2" y1="313.5" x2="578.7" y2="313.5"/>
<line x1="68.5" y1="298.5" x2="72.5" y2="298.5"/>
<line x1="574.7" y1="298.5" x2="578.7" y2="298.5"/>
<line x1="68.5" y1="283.5" x2="72.5" y2="283.5"/>
<line x1="574.7" y1="283.5" x2="578.7" y2="283.5"/>
<line x1="68.5" y1="269.5" x2="72.5" y2="269.5"/>
<line x1="574.7" y1="269.5" x2="578.7" y2="269.5"/>
<line x1="68.5" y1="254.5" x2="72.5" y2="254.5"/>
<line x1="574.7" y1="254.5" x2="578.7" y2="254.5"/>
<line x1="68.5" y1="239.5" x2="75.0" y2="239.5"/>
<line x1="572.2" y1="239.5" x2="578.7" y2="239.5"/>
<line x1="68.5" y1="225.5" x2="72.5" y2="225.5"/>
<line x1="574.7" y1="225.5" x2="578.7" y2="225.5"/>
<line x1="68.5" y1="210.5" x2="72.5" y2="210.5"/>
<line x1="574.7" y1="210.5" x2="578.7" y2="210.5"/>
<line x1="68.5" y1="196.5" x2="72.5" y2="196.5"/>
<line x1="574.7" y1="196.5" x2="578.7" y2="196.5"/>
<line x1="68.5" y1="181.5" x2="72.5" y2="181.5"/>
<line x1="574.7" y1="181.5" x2="578.7" y2="181.5"/>
<line x1="68.5" y1="166.5" x2="75.0" y2="166.5"/>
<line x1="572.2" y1="166.5" x2="578.7" y2="166.5"/>
<line x1="68.5" y1="152.5" x2="72.5" y2="152.5"/>
<line x1="574.7" y1="152.5" x2="578.7" y2="152.5"/>
<line x1="68.5" y1="137.5" x2="72.5" y2="137.5"/>
<line x1="574.7" y1="137.5" x2="578.7" y2="137.5"/>
<line x1="68.5" y1="123.5" x2="72.5" y2="123.5"/>
<line x1="574.7" y1="123.5" x2="578.7" y2="123.5"/>
<line x1="68.5" y1="108.5" x2="72.5" y2="108.5"/>
<line x1="574.7" y1="108.5" x2="578.7" y2="108.5"/>
<line x1="68.5" y1="93.5" x2="75.0" y2="93.5"/>
<line x1="572.2" y1="93.5" x2="578.7" y2="93.5"/>
<line x1="68.5" y1="79.5" x2="72.5" y2="79.5"/>
<line x1="574.7" y1="79.5" x2="578.7" y2="79.5"/>
<line x1="68.5" y1="64.5" x2="72.5" y2="64.5"/>
<line x1="574.7" y1="64.5" x2="578.7" y2="64.5"/>
<line x1="68.5" y1="50.5" x2="72.5" y2="50.5"/>
<line x1="574.7" y1="50.5" x2="578.7" y2="50.5"/>
<line x1="68.5" y1="35.5" x2="72.5" y2="35.5"/>
<line x1="574.7" y1="35.5" x2="578.7" y2="35.5"/>
<line x1="68.5" y1="20.5" x2="75.0" y2="20.5"/>
<line x1="572.2" y1="20.5" x2="578.7" y2="20.5"/>
<line x1="68.5" y1="6.5" x2="72.5" y2="6.5"/>
<line x1="574.7" y1="6.5" x2="578.7" y2="6.5"/>
</g>
<g font-family="Liberation Sans, sans-serif" font-size="14.4px" fill="#111" stroke="#111" stroke-width="0.2">
<text x="63.4" y="25.6" text-anchor="end">200</text>
<text x="63.4" y="98.6" text-anchor="end">150</text>
<text x="63.4" y="171.6" text-anchor="end">100</text>
<text x="63.4" y="244.6" text-anchor="end">50</text>
<text x="63.4" y="318.6" text-anchor="end">0</text>
<text x="63.4" y="391.6" text-anchor="end">−50</text>
<text x="63.4" y="464.6" text-anchor="end">−100</text>
<text x="78.8" y="526.7" text-anchor="middle">−10</text>
<text x="201.8" y="526.7" text-anchor="middle">−5</text>
<text x="323.8" y="526.7" text-anchor="middle">0</text>
<text x="446.8" y="526.7" text-anchor="middle">5</text>
<text x="568.8" y="526.7" text-anchor="middle">10</text>
</g>
<text transform="translate(323.6,562.0) scale(1,1.1)" text-anchor="middle" font-family="Liberation Sans, sans-serif" font-size="24px" fill="#111" stroke="#111" stroke-width="0.6">t</text>
<text transform="translate(15.2,265.6) rotate(-90)" font-family="Liberation Sans, sans-serif" fill="#111"><tspan font-size="14px" font-style="italic">V</tspan><tspan font-size="10px" font-style="italic" dy="2.4" dx="-0.6">s</tspan><tspan font-size="10px" dy="-8.4" dx="0.6">2</tspan></text>
</svg>
</body></html>
